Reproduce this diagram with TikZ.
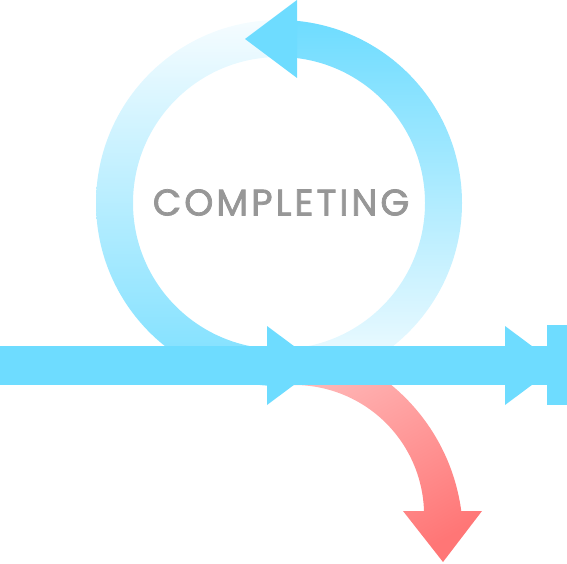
\documentclass[tikz,border=0pt]{standalone}
\usepackage{fontspec}
\newfontfamily\labelfont[LetterSpace=8, FakeBold=2]{Poppins}
\usetikzlibrary{calc}
\definecolor{barblue}{HTML}{6EDCFF}
\definecolor{ringlight}{HTML}{F5FCFF}
\definecolor{ringdeep}{HTML}{7ADFFF}
\definecolor{redlight}{HTML}{FFB8B8}
\definecolor{reddeep}{HTML}{FF7676}
\definecolor{textgray}{HTML}{979797}
\tikzset{
  bluepart/.style={fill=barblue},
  leftring/.style={top color=ringlight, bottom color=ringdeep},
  rightring/.style={top color=barblue, bottom color=ringlight},
  redarrow/.style={top color=redlight, bottom color=reddeep, shading angle=30},
  labeltext/.style={font=\labelfont\fontsize{37}{37}\selectfont, text=textgray, inner sep=0pt}
}
\begin{document}
\begin{tikzpicture}[x=1pt,y=1pt]
\useasboundingbox (0,0) rectangle (567,563);
\coordinate (ringc) at (279,360);
\coordinate (redout) at (266,26);
\coordinate (redin) at (294,48);
% left half of the ring
\shade[leftring]
  ($(ringc)+(90:183)$) arc[start angle=90,end angle=270,radius=183]
  -- ($(ringc)+(270:146)$) arc[start angle=270,end angle=90,radius=146] -- cycle;
% right half of the ring
\shade[rightring]
  ($(ringc)+(-90:183)$) arc[start angle=-90,end angle=90,radius=183]
  -- ($(ringc)+(90:146)$) arc[start angle=90,end angle=-90,radius=146] -- cycle;
% top arrowhead
\fill[bluepart] (297,563) -- (245,524) -- (297,485) -- cycle;
% label
\node[labeltext] (label) at (281,360.5) {COMPLETING};
% red arrow
\shade[redarrow]
  ($(redout)+(76:197)$) arc[start angle=76,end angle=7.58,radius=197]
  -- (482,52) -- (443,1) -- (403,52) -- (424,52)
  arc[start angle=1.76,end angle=92,radius=130] -- cycle;
% horizontal bar
\fill[bluepart] (0,178) rectangle (547,217);
\fill[bluepart] (267,237) -- (320,197.5) -- (267,158) -- cycle;
\fill[bluepart] (505,237) -- (558,197.5) -- (505,158) -- cycle;
\fill[bluepart] (547,158) rectangle (567,238);
\end{tikzpicture}
\end{document}
